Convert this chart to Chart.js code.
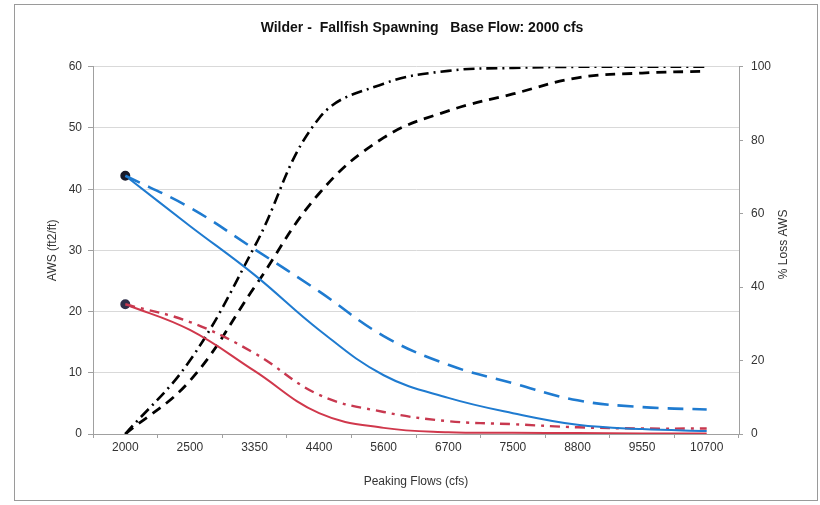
<!DOCTYPE html>
<html>
<head>
<meta charset="utf-8">
<script src="https://cdn.jsdelivr.net/npm/chart.js@4"></script>
<style>
  html, body { margin: 0; padding: 0; background: #fff; }
  #wrap { position: relative; width: 820px; height: 505px; }
  #frame { position: absolute; left: 14px; top: 4px; width: 804px; height: 497px; border: 1px solid #9a9a9a; box-sizing: border-box; pointer-events: none; }
</style>
</head>
<body>
<div id="wrap">
  <canvas id="grafica" width="820" height="505"></canvas>
  <div id="frame"></div>
</div>
<script>
const flows = ['2000', '2500', '3350', '4400', '5600', '6700', '7500', '8800', '9550', '10700'];

// AWS (ft2/ft), eje izquierdo
const awsBlueSolid  = [42.2, 34.0, 26.0, 17.0, 9.6, 5.9, 3.4, 1.5, 0.8, 0.5];
const awsBlueDashed = [42.2, 37.0, 30.2, 23.3, 16.0, 11.3, 8.3, 5.5, 4.4, 4.0];
const awsRedSolid   = [21.2, 17.0, 10.3, 3.4, 1.0, 0.3, 0.2, 0.15, 0.1, 0.1];
const awsRedDashDot = [21.2, 18.3, 13.2, 6.4, 3.6, 2.1, 1.6, 1.1, 0.9, 0.9];

// % Loss AWS, eje derecho
const lossDashDot = [0, 20, 51, 86, 95.4, 98.9, 99.7, 100, 100, 100];
const lossDashed  = [0, 14.5, 40, 65.5, 80.7, 88, 92.6, 97, 98.3, 98.8];

const leftTicks = [0, 10, 20, 30, 40, 50, 60];
const rightTicks = [0, 20, 40, 60, 80, 100];
const rightTitle = '% Loss AWS';

const firstDot = flows.map((f, i) => i === 0 ? 4 : 0);
const fuente = 'Liberation Sans, Arial';

// título del eje derecho, leído de abajo hacia arriba como en el original
const tituloDerecho = {
  id: 'tituloDerecho',
  afterDraw(chart) {
    const c = chart.ctx;
    const area = chart.chartArea;
    c.save();
    c.translate(784, (area.top + area.bottom) / 2 - 6);
    c.rotate(-Math.PI / 2);
    c.font = '12px ' + fuente;
    c.fillStyle = '#333';
    c.textAlign = 'center';
    c.textBaseline = 'middle';
    c.fillText(rightTitle, 0, 0);
    c.restore();
  }
};

const ctx = document.getElementById('grafica').getContext('2d');
new Chart(ctx, {
  type: 'line',
  data: {
    labels: flows,
    datasets: [
      { data: awsBlueDashed, yAxisID: 'y', borderColor: '#1f7bd0', borderWidth: 2.6, borderDash: [16, 9], pointRadius: 0 },
      { data: awsBlueSolid, yAxisID: 'y', borderColor: '#1f7bd0', borderWidth: 2, pointRadius: firstDot, pointBackgroundColor: '#1a1a2a', pointBorderColor: '#1a1a2a' },
      { data: awsRedDashDot, yAxisID: 'y', borderColor: '#c8384f', borderWidth: 2.4, borderDash: [10, 6, 3, 6], pointRadius: 0 },
      { data: awsRedSolid, yAxisID: 'y', borderColor: '#d0384c', borderWidth: 2, pointRadius: firstDot, pointBackgroundColor: '#30304a', pointBorderColor: '#30304a' },
      { data: lossDashDot, yAxisID: 'y2', borderColor: '#000', borderWidth: 2.6, borderDash: [11, 5, 2, 5], pointRadius: 0 },
      { data: lossDashed, yAxisID: 'y2', borderColor: '#000', borderWidth: 2.8, borderDash: [10, 7], pointRadius: 0 }
    ]
  },
  options: {
    responsive: false,
    animation: false,
    layout: { padding: { left: 44, right: 20, top: 8, bottom: 12 } },
    elements: { line: { tension: 0.4, fill: false } },
    plugins: {
      legend: { display: false },
      tooltip: { enabled: false },
      title: {
        display: true,
        text: 'Wilder -  Fallfish Spawning   Base Flow: 2000 cfs',
        color: '#111',
        font: { family: fuente, size: 14, weight: 'bold' },
        padding: { top: 12, bottom: 30 }
      }
    },
    scales: {
      x: {
        offset: true,
        grid: { drawOnChartArea: false, offset: true, tickLength: 4, color: '#a0a0a0' },
        border: { color: '#a0a0a0' },
        ticks: { color: '#333', font: { family: fuente, size: 12 }, maxRotation: 0, autoSkip: false, padding: 2 },
        title: { display: true, text: 'Peaking Flows (cfs)', color: '#333', font: { family: fuente, size: 12 }, padding: { top: 14 } },
        afterFit: s => { s.height = 59; }
      },
      y: {
        position: 'left',
        min: 0, max: 60,
        afterBuildTicks: s => { s.ticks = leftTicks.map(v => ({ value: v })); },
        grid: { color: '#d9d9d9', tickLength: 5, tickColor: '#a0a0a0' },
        border: { color: '#a0a0a0' },
        ticks: { color: '#333', font: { family: fuente, size: 12 }, padding: 6 },
        title: { display: true, text: 'AWS (ft2/ft)', color: '#333', font: { family: fuente, size: 12 }, padding: 1 },
        afterFit: s => { s.width = 49; }
      },
      y2: {
        position: 'right',
        min: 0, max: 100,
        afterBuildTicks: s => { s.ticks = rightTicks.map(v => ({ value: v })); },
        grid: { drawOnChartArea: false, tickLength: 4, tickColor: '#a0a0a0' },
        border: { color: '#a0a0a0' },
        ticks: { color: '#333', font: { family: fuente, size: 12 }, padding: 8 },
        afterFit: s => { s.width = 61; }
      }
    }
  },
  plugins: [tituloDerecho]
});
</script>
</body>
</html>
